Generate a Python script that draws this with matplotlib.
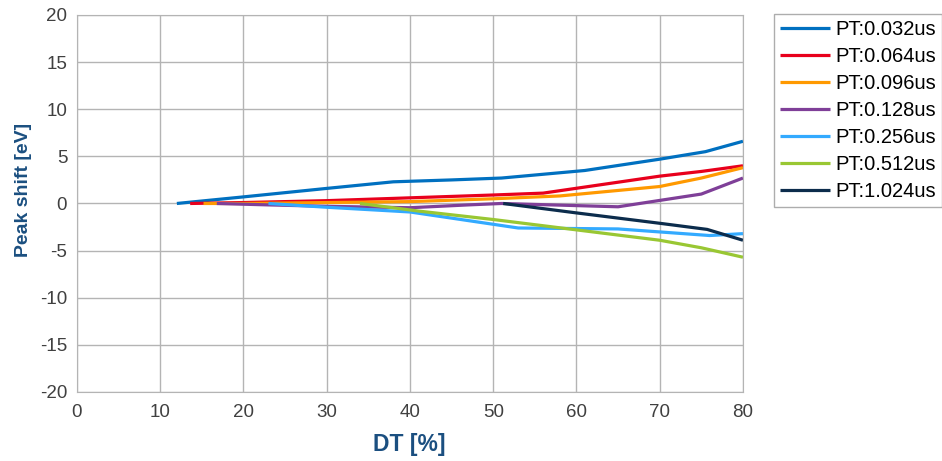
import matplotlib.pyplot as plt

plt.rcParams['font.family'] = ['Liberation Sans', 'DejaVu Sans']
plt.rcParams['axes.unicode_minus'] = False

labels = ['PT:0.032us', 'PT:0.064us', 'PT:0.096us', 'PT:0.128us',
          'PT:0.256us', 'PT:0.512us', 'PT:1.024us']
colors = ['#0070C0', '#E8001C', '#FF9900', '#7F3F98',
          '#33AAFF', '#99C733', '#0C2C4C']

dt_032 = [12, 20, 30, 38, 45, 51, 61, 70, 75.5, 80]
ps_032 = [0, 0.7, 1.6, 2.3, 2.5, 2.7, 3.5, 4.7, 5.5, 6.6]
dt_064 = [13.6, 20, 30, 40, 50, 56, 70, 75, 80]
ps_064 = [0, 0.1, 0.3, 0.6, 0.9, 1.1, 2.9, 3.4, 4.0]
dt_096 = [15.2, 20, 30, 40, 50, 58, 70, 75, 80]
ps_096 = [0, 0.0, 0.1, 0.2, 0.5, 0.8, 1.8, 2.7, 3.8]
dt_128 = [16.8, 23, 30, 40, 47, 51, 65, 75, 80]
ps_128 = [0, -0.15, -0.3, -0.45, -0.15, 0, -0.35, 1.0, 2.7]
dt_256 = [23, 30, 40, 53, 65, 76, 80]
ps_256 = [0, -0.4, -0.9, -2.6, -2.7, -3.4, -3.2]
dt_512 = [34, 41, 50, 60, 70, 75, 80]
ps_512 = [0, -0.8, -1.7, -2.8, -3.9, -4.7, -5.7]
dt_1024 = [51.2, 60, 70, 75.7, 80]
ps_1024 = [0, -1.0, -2.1, -2.75, -3.9]

series = [(dt_032, ps_032), (dt_064, ps_064), (dt_096, ps_096), (dt_128, ps_128),
          (dt_256, ps_256), (dt_512, ps_512), (dt_1024, ps_1024)]

fig = plt.figure(figsize=(9.42, 4.61), dpi=100)
ax = fig.add_axes([0.0817, 0.1497, 0.707, 0.8178])

for (x, y), lab, c in zip(series, labels, colors):
    ax.plot(x, y, color=c, lw=2.3, label=lab, solid_capstyle='butt')

ax.set_xlim(0, 80)
ax.set_ylim(-20, 20)
ax.set_xticks(range(0, 81, 10))
ax.set_yticks(range(-20, 21, 5))
ax.grid(True, color='#b4b4b4', lw=1)
ax.set_axisbelow(True)
for s in ax.spines.values():
    s.set_color('#b4b4b4')
ax.tick_params(length=0, labelsize=13.5, labelcolor='#404040')
ax.tick_params(axis='x', pad=9)
ax.tick_params(axis='y', pad=7)

ax.set_xlabel('DT [%]', fontsize=16.5, fontweight='bold', color='#1B4F80', va='center')
ax.xaxis.set_label_coords(0.499, -0.138)
ax.set_ylabel('Peak shift [eV]', fontsize=14, fontweight='bold', color='#1B4F80', va='center')
ax.yaxis.set_label_coords(-0.081, 0.536)

leg = ax.legend(loc='upper left', bbox_to_anchor=(1.0465, 1.003), fontsize=14.5,
                frameon=True, fancybox=False, handlelength=2.5, handletextpad=0.25,
                labelspacing=0.4, borderpad=0.3, borderaxespad=0)
leg.get_frame().set_edgecolor('#999999')
leg.get_frame().set_linewidth(1)

fig.savefig('out.png', dpi=100)
